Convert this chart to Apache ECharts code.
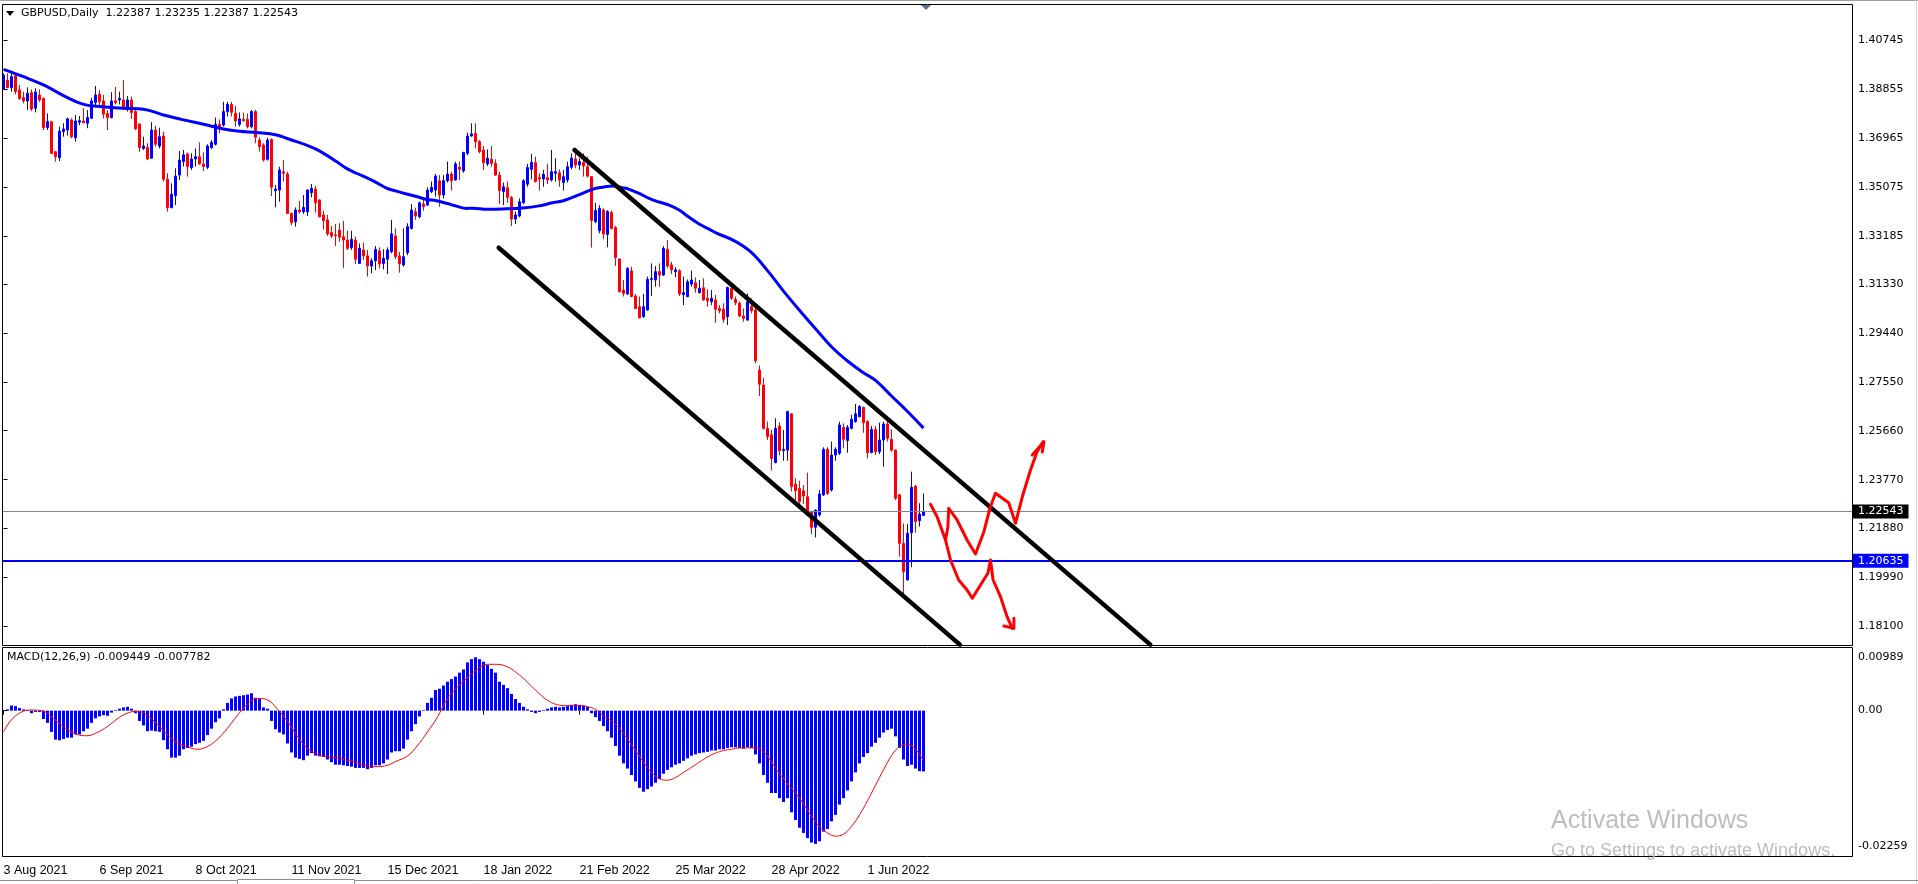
<!DOCTYPE html>
<html><head><meta charset="utf-8">
<script src="https://cdn.jsdelivr.net/npm/echarts@6/dist/echarts.min.js"></script>
<style>html,body{margin:0;padding:0;background:#fff;overflow:hidden}#c{width:1918px;height:884px}</style>
</head><body><div id="c"></div>
<script>
// ---------- data ----------
const OPEN = [
1.3884,1.3920,1.3891,1.3937,1.3882,1.3852,1.3839,1.3871,1.3811,1.3862,
1.3849,1.3736,1.3759,1.3643,1.3620,1.3721,1.3727,1.3766,1.3697,1.3757,
1.3762,1.3753,1.3772,1.3833,1.3865,1.3839,1.3791,1.3775,1.3840,1.3843,
1.3843,1.3811,1.3843,1.3798,1.3750,1.3656,1.3660,1.3618,1.3727,1.3665,
1.3704,1.3537,1.3427,1.3474,1.3553,1.3605,1.3634,1.3582,1.3615,1.3624,
1.3596,1.3583,1.3659,1.3672,1.3749,1.3746,1.3798,1.3826,1.3791,1.3749,
1.3768,1.3768,1.3740,1.3798,1.3688,1.3669,1.3614,1.3691,1.3493,1.3495,
1.3566,1.3557,1.3405,1.3373,1.3418,1.3411,1.3411,1.3485,1.3499,1.3457,
1.3399,1.3380,1.3331,1.3322,1.3341,1.3315,1.3302,1.3273,1.3302,1.3212,
1.3264,1.3241,1.3202,1.3222,1.3260,1.3212,1.3228,1.3257,1.3318,1.3241,
1.3206,1.3253,1.3347,1.3411,1.3392,1.3441,1.3437,1.3489,1.3495,1.3531,
1.3476,1.3531,1.3557,1.3534,1.3583,1.3569,1.3637,1.3704,1.3714,1.3682,
1.3650,1.3596,1.3614,1.3598,1.3553,1.3489,1.3504,1.3466,1.3383,1.3395,
1.3446,1.3518,1.3575,1.3601,1.3543,1.3538,1.3543,1.3534,1.3560,1.3562,
1.3524,1.3534,1.3583,1.3615,1.3592,1.3602,1.3585,1.3547,1.3373,1.3338,
1.3418,1.3324,1.3408,1.3351,1.3229,1.3109,1.3094,1.3183,1.3086,1.3045,
1.3006,1.3032,1.3150,1.3148,1.3180,1.3167,1.3266,1.3206,1.3180,1.3184,
1.3091,1.3084,1.3132,1.3137,1.3099,1.3118,1.3077,1.3064,1.3071,1.3038,
1.3035,1.3006,1.3116,1.3073,1.3058,1.3009,1.2993,1.3045,1.3032,1.2800,
1.2742,1.2575,1.2550,1.2443,1.2584,1.2489,1.2491,1.2631,1.2360,1.2343,
1.2334,1.2311,1.2253,1.2193,1.2241,1.2318,1.2494,1.2337,1.2472,1.2479,
1.2579,1.2528,1.2575,1.2601,1.2620,1.2656,1.2601,1.2481,1.2571,1.2485,
1.2530,1.2592,1.2533,1.2491,1.2318,1.2131,1.1990,1.2172,1.2352,1.2219,
1.22387];
const HIGH = [
1.3946,1.3946,1.3946,1.3946,1.3901,1.3875,1.3892,1.3884,1.3888,1.3884,
1.3852,1.3791,1.3762,1.3646,1.3740,1.3753,1.3775,1.3772,1.3785,1.3781,
1.3811,1.3804,1.3852,1.3897,1.3882,1.3862,1.3804,1.3873,1.3893,1.3875,
1.3920,1.3858,1.3856,1.3811,1.3753,1.3701,1.3676,1.3757,1.3743,1.3736,
1.3721,1.3560,1.3521,1.3579,1.3646,1.3650,1.3640,1.3637,1.3656,1.3679,
1.3641,1.3672,1.3688,1.3775,1.3768,1.3836,1.3836,1.3836,1.3820,1.3795,
1.3794,1.3791,1.3804,1.3804,1.3699,1.3676,1.3697,1.3694,1.3515,1.3585,
1.3611,1.3566,1.3408,1.3428,1.3454,1.3476,1.3499,1.3519,1.3511,1.3459,
1.3415,1.3399,1.3356,1.3364,1.3367,1.3376,1.3338,1.3338,1.3315,1.3289,
1.3292,1.3264,1.3232,1.3279,1.3274,1.3266,1.3274,1.3380,1.3347,1.3257,
1.3347,1.3367,1.3441,1.3427,1.3450,1.3463,1.3506,1.3528,1.3557,1.3553,
1.3553,1.3605,1.3566,1.3605,1.3605,1.3643,1.3717,1.3753,1.3753,1.3688,
1.3665,1.3652,1.3665,1.3614,1.3566,1.3524,1.3528,1.3472,1.3412,1.3463,
1.3537,1.3596,1.3634,1.3624,1.3560,1.3573,1.3596,1.3650,1.3618,1.3575,
1.3573,1.3605,1.3637,1.3643,1.3618,1.3637,1.3624,1.3547,1.3446,1.3437,
1.3425,1.3418,1.3416,1.3356,1.3231,1.3148,1.3197,1.3199,1.3094,1.3084,
1.3094,1.3161,1.3212,1.3202,1.3212,1.3279,1.3302,1.3218,1.3197,1.3189,
1.3161,1.3150,1.3184,1.3158,1.3148,1.3154,1.3112,1.3109,1.3090,1.3051,
1.3058,1.3122,1.3122,1.3084,1.3064,1.3038,1.3096,1.3077,1.3055,1.2818,
1.2770,1.2601,1.2569,1.2614,1.2598,1.2569,1.2643,1.2633,1.2382,1.2373,
1.2356,1.2404,1.2257,1.2262,1.2337,1.2502,1.2502,1.2524,1.2502,1.2601,
1.2594,1.2588,1.2627,1.2669,1.2665,1.2659,1.2607,1.2584,1.2584,1.2597,
1.2601,1.2605,1.2571,1.2494,1.2322,1.2208,1.2206,1.2408,1.2356,1.2286,
1.23235];
const LOW = [
1.3882,1.3888,1.3875,1.3865,1.3843,1.3830,1.3804,1.3800,1.3795,1.3836,
1.3727,1.3727,1.3634,1.3605,1.3607,1.3701,1.3705,1.3695,1.3682,1.3746,
1.3753,1.3734,1.3770,1.3824,1.3824,1.3772,1.3727,1.3772,1.3826,1.3826,
1.3804,1.3798,1.3770,1.3727,1.3643,1.3650,1.3611,1.3615,1.3663,1.3656,
1.3528,1.3412,1.3425,1.3437,1.3534,1.3586,1.3547,1.3573,1.3586,1.3592,
1.3569,1.3576,1.3654,1.3667,1.3714,1.3740,1.3779,1.3779,1.3740,1.3740,
1.3759,1.3733,1.3733,1.3676,1.3643,1.3605,1.3609,1.3472,1.3428,1.3450,
1.3528,1.3403,1.3360,1.3354,1.3405,1.3403,1.3395,1.3467,1.3408,1.3390,
1.3343,1.3318,1.3309,1.3279,1.3296,1.3195,1.3264,1.3264,1.3210,1.3210,
1.3225,1.3161,1.3174,1.3186,1.3193,1.3189,1.3171,1.3251,1.3228,1.3176,
1.3199,1.3244,1.3343,1.3380,1.3386,1.3415,1.3433,1.3483,1.3470,1.3431,
1.3463,1.3524,1.3493,1.3531,1.3534,1.3562,1.3630,1.3701,1.3656,1.3637,
1.3573,1.3588,1.3585,1.3549,1.3441,1.3437,1.3446,1.3356,1.3364,1.3390,
1.3441,1.3508,1.3537,1.3524,1.3493,1.3508,1.3518,1.3528,1.3528,1.3508,
1.3493,1.3524,1.3575,1.3579,1.3573,1.3547,1.3544,1.3273,1.3367,1.3328,
1.3305,1.3274,1.3343,1.3202,1.3099,1.3084,1.3090,1.3081,1.3035,1.2999,
1.3002,1.3029,1.3086,1.3122,1.3122,1.3163,1.3193,1.3171,1.3158,1.3086,
1.3051,1.3081,1.3122,1.3099,1.3096,1.3068,1.3045,1.3051,1.2983,1.3019,
1.2983,1.2974,1.3071,1.3051,1.3004,1.2987,1.2991,1.3019,1.2826,1.2700,
1.2570,1.2530,1.2412,1.2440,1.2472,1.2450,1.2450,1.2331,1.2298,1.2279,
1.2283,1.2244,1.2167,1.2154,1.2234,1.2314,1.2318,1.2331,1.2450,1.2472,
1.2498,1.2481,1.2571,1.2597,1.2618,1.2558,1.2459,1.2479,1.2472,1.2476,
1.2427,1.2524,1.2485,1.2298,1.2080,1.1932,1.1987,1.2039,1.2172,1.2196,
1.22387];
const CLOSE = [
1.3939,1.3891,1.3933,1.3875,1.3849,1.3839,1.3869,1.3808,1.3874,1.3843,
1.3736,1.3759,1.3636,1.3624,1.3723,1.3731,1.3770,1.3701,1.3762,1.3763,
1.3755,1.3775,1.3839,1.3862,1.3836,1.3788,1.3775,1.3839,1.3833,1.3849,
1.3811,1.3843,1.3795,1.3731,1.3659,1.3665,1.3615,1.3727,1.3672,1.3701,
1.3537,1.3427,1.3479,1.3549,1.3611,1.3631,1.3586,1.3615,1.3624,1.3596,
1.3586,1.3665,1.3679,1.3749,1.3740,1.3798,1.3826,1.3795,1.3762,1.3770,
1.3763,1.3740,1.3798,1.3699,1.3663,1.3611,1.3688,1.3506,1.3499,1.3573,
1.3560,1.3405,1.3369,1.3418,1.3411,1.3428,1.3495,1.3502,1.3446,1.3392,
1.3377,1.3326,1.3318,1.3319,1.3313,1.3302,1.3270,1.3305,1.3228,1.3270,
1.3241,1.3202,1.3222,1.3266,1.3210,1.3232,1.3264,1.3326,1.3238,1.3210,
1.3238,1.3354,1.3418,1.3395,1.3446,1.3431,1.3495,1.3506,1.3549,1.3476,
1.3531,1.3557,1.3531,1.3596,1.3575,1.3640,1.3704,1.3712,1.3682,1.3643,
1.3601,1.3618,1.3598,1.3553,1.3493,1.3508,1.3467,1.3383,1.3399,1.3450,
1.3531,1.3582,1.3602,1.3528,1.3538,1.3556,1.3534,1.3566,1.3566,1.3534,
1.3547,1.3585,1.3618,1.3592,1.3605,1.3588,1.3549,1.3377,1.3416,1.3425,
1.3325,1.3412,1.3347,1.3235,1.3103,1.3096,1.3193,1.3084,1.3038,1.3002,
1.3045,1.3150,1.3154,1.3180,1.3167,1.3270,1.3202,1.3187,1.3187,1.3094,
1.3099,1.3141,1.3148,1.3116,1.3116,1.3071,1.3068,1.3077,1.3035,1.3029,
1.2996,1.3119,1.3077,1.3060,1.3009,1.3000,1.3064,1.3029,1.2836,1.2745,
1.2575,1.2543,1.2459,1.2575,1.2489,1.2494,1.2640,1.2350,1.2334,1.2292,
1.2314,1.2253,1.2193,1.2260,1.2322,1.2494,1.2324,1.2472,1.2494,1.2588,
1.2533,1.2579,1.2610,1.2631,1.2659,1.2597,1.2481,1.2571,1.2485,1.2530,
1.2592,1.2537,1.2491,1.2305,1.2131,1.2022,1.2170,1.2347,1.2215,1.2244,
1.22543];

// moving average read at sample bars
const MA_X = [0,5,10,15,20,25,30,35,40,45,50,55,59,63.25,68.25,70.75,73.25,75.75,78.25,80.75,
83.25,85.75,88.25,90.75,93.25,95.75,98.25,100.75,103.25,105.75,108.25,110.75,113.25,115.75,117.25,121,124.75,129.75,133.9,137.25,
139.75,142.25,144.75,147.25,149.75,152.25,154.75,156.4,158.9,161.4,163.9,166.4,168.9,171.4,173.9,176.4,178.4,182.6,186.75,190.9,
195.1,199.25,203,207,211,215,218,222,226,230];
const MA_Y = [1.3961,1.3933,1.3901,1.3860,1.3826,1.3817,1.3811,1.3807,1.3785,1.3766,1.3749,1.3731,1.3722,1.3717,1.3708,1.3695,1.3682,1.3669,1.3652,1.3630,
1.3605,1.3579,1.3560,1.3543,1.3524,1.3503,1.3491,1.3480,1.3470,1.3459,1.3454,1.3444,1.3433,1.3424,1.3425,1.3421,1.3422,1.3426,1.3434,1.3446,
1.3453,1.3467,1.3482,1.3498,1.3506,1.3511,1.3504,1.3498,1.3482,1.3463,1.3449,1.3437,1.3418,1.3390,1.3364,1.3344,1.3328,1.3300,1.3257,1.3186,
1.3103,1.3026,1.2960,1.2890,1.2835,1.2790,1.2760,1.2700,1.2640,1.2576];

// MACD histogram, one value per bar
const MACD_HIST = [
0.0001,0.0002,0.0008,0.0007,0.0004,0.0002,0.0001,-0.0004,-0.0002,-0.0002,
-0.0013,-0.0019,-0.0033,-0.0045,-0.0046,-0.0044,-0.0042,-0.0042,-0.0037,-0.0037,
-0.0032,-0.0028,-0.0019,-0.0012,-0.0009,-0.0007,-0.0008,-0.0003,0.0001,0.0003,
0.0005,0.0006,0.0003,-0.0004,-0.0016,-0.0023,-0.0032,-0.0031,-0.0032,-0.0033,
-0.0046,-0.0060,-0.0073,-0.0073,-0.0070,-0.0060,-0.0058,-0.0056,-0.0052,-0.0050,
-0.0047,-0.0038,-0.0028,-0.0018,-0.0012,0.0002,0.0012,0.0019,0.0022,0.0023,
0.0024,0.0025,0.0027,0.0020,0.0018,0.0005,0.0003,-0.0016,-0.0029,-0.0034,
-0.0037,-0.0051,-0.0065,-0.0073,-0.0075,-0.0077,-0.0070,-0.0066,-0.0070,-0.0071,
-0.0072,-0.0076,-0.0080,-0.0084,-0.0084,-0.0085,-0.0086,-0.0087,-0.0089,-0.0089,
-0.0089,-0.0091,-0.0089,-0.0085,-0.0085,-0.0082,-0.0076,-0.0065,-0.0063,-0.0063,
-0.0059,-0.0045,-0.0032,-0.0021,-0.0009,0.0001,0.0012,0.0020,0.0032,0.0034,
0.0039,0.0045,0.0049,0.0053,0.0059,0.0064,0.0075,0.0080,0.0083,0.0080,
0.0076,0.0071,0.0065,0.0059,0.0045,0.0040,0.0035,0.0026,0.0018,0.0012,
0.0006,0.0002,-0.0002,-0.0004,-0.0002,0.0001,0.0003,0.0005,0.0006,0.0005,
0.0006,0.0007,0.0009,0.0010,0.0009,0.0008,0.0006,-0.0004,-0.0010,-0.0016,
-0.0024,-0.0032,-0.0042,-0.0055,-0.0070,-0.0082,-0.0090,-0.0100,-0.0110,-0.0120,
-0.0126,-0.0122,-0.0118,-0.0112,-0.0106,-0.0098,-0.0092,-0.0088,-0.0084,-0.0082,
-0.0078,-0.0074,-0.0070,-0.0068,-0.0066,-0.0065,-0.0064,-0.0062,-0.0062,-0.0060,
-0.0060,-0.0058,-0.0057,-0.0057,-0.0058,-0.0059,-0.0057,-0.0058,-0.0068,-0.0082,
-0.0100,-0.0112,-0.0128,-0.0128,-0.0136,-0.0142,-0.0136,-0.0158,-0.0170,-0.0182,
-0.0190,-0.0198,-0.0205,-0.0207,-0.0203,-0.0188,-0.0184,-0.0172,-0.0162,-0.0146,
-0.0136,-0.0124,-0.0110,-0.0096,-0.0082,-0.0072,-0.0066,-0.0056,-0.0050,-0.0042,
-0.0034,-0.0030,-0.0028,-0.0040,-0.0058,-0.0076,-0.0086,-0.0084,-0.0090,-0.0094,
-0.009449];

// MACD signal line read at sample bars
const SIGNAL_X = [0,1.75,4.25,6.75,10.1,12.6,15.9,18.4,20.9,23.4,25.9,28.4,30.9,33.4,35.9,38.4,40.9,43.4,45.9,48.4,
50.9,53.4,55.9,58.4,60.9,63.4,65.9,68.4,70.9,73.4,75.9,78.4,80.9,83.4,85.9,88.4,90.9,93.4,95.9,98.4,
100.9,103.4,105.9,108.4,110.9,113.4,115.9,118.4,120.9,123.4,
126,128,130,132,134,136,138,140,142,144,146,148,150,152,154,156,158,160,162,164,166,168,170,172,174,176,178,180,
182,184,186,188,190,192,194,196,198,200,202,204,206,208,210,212,214,216,218,220,222,224,226,228,230];
const SIGNAL_Y = [-0.0033,-0.0016,-0.0003,0.0001,-0.0001,-0.0013,-0.0029,-0.0037,-0.0039,-0.0034,
-0.0025,-0.0013,-0.0004,-0.0001,-0.0007,-0.0021,-0.0037,-0.0050,-0.0056,-0.0060,
-0.0056,-0.0045,-0.0028,-0.0008,0.0010,0.0019,0.0017,0.0003,-0.0016,-0.0039,
-0.0058,-0.0068,-0.0072,-0.0073,-0.0077,-0.0081,-0.0086,-0.0087,-0.0085,-0.0078,
-0.0071,-0.0055,-0.0034,-0.0011,0.0018,0.0036,0.0051,0.0064,0.0072,0.0072,
0.0068,0.0060,0.0050,0.0038,0.0026,0.0016,0.0010,0.0008,0.0008,0.0008,0.0006,0.0002,-0.0008,-0.0016,
-0.0028,-0.0044,-0.0062,-0.0080,-0.0096,-0.0106,-0.0108,-0.0104,-0.0096,-0.0088,-0.0080,-0.0072,-0.0066,-0.0062,
-0.0060,-0.0058,-0.0058,-0.0058,-0.0064,-0.0080,-0.0098,-0.0114,-0.0128,-0.0145,-0.0164,-0.0180,-0.0190,-0.0195,
-0.0192,-0.0180,-0.0162,-0.0140,-0.0116,-0.0092,-0.0070,-0.0056,-0.0052,-0.0060,-0.0078];

// axis ticks
const DATE_TICKS = [0,24,48,72,96,120,144,168,192,216];
const DATE_LABELS = ['3 Aug 2021','6 Sep 2021','8 Oct 2021','11 Nov 2021','15 Dec 2021','18 Jan 2022','21 Feb 2022','25 Mar 2022','28 Apr 2022','1 Jun 2022'];
const PRICE_TICKS = [1.40745,1.38855,1.36965,1.35075,1.33185,1.31330,1.29440,1.27550,1.25660,1.23770,1.21880,1.19990,1.18100];
const MACD_TICKS = [0.00989,0,-0.02259];

// drawn objects (bar index, price)
const CHANNEL_UPPER = [[142.75,1.36498],[286.7,1.1740]];
const CHANNEL_LOWER = [[123.8,1.32726],[239.1,1.1740]];
const SKETCH_UP = [[231.75,1.22818],[233.4,1.22340],[235.5,1.21440],[236.1,1.21954],[236.3,1.22664],[238.4,1.22213],[240.9,1.21440],[243,1.20900],[245.1,1.21761],[246.6,1.22664],[248,1.23244],[251.3,1.22881],[253,1.22086],[254.7,1.23108],[256.75,1.24143],[258.4,1.24849],[259.9,1.25235]];
const SKETCH_UP_HEAD = [[257.2,1.24722],[260.1,1.25235],[259.7,1.24838]];
const SKETCH_DOWN = [[235.5,1.21440],[236.75,1.20668],[238.8,1.19896],[240.9,1.19510],[242.2,1.19189],[244.25,1.19703],[246.1,1.20155],[246.75,1.20668],[247.4,1.19896],[249.25,1.19251],[250.9,1.18479],[252.2,1.18031]];
const SKETCH_DOWN_HEAD = [[250.1,1.18120],[252.6,1.18031],[252.6,1.18417]];
const LAST_PRICE = 1.22543;
const LEVEL = 1.20635;
const HEADER = 'GBPUSD,Daily  1.22387 1.23235 1.22387 1.22543';
const MACD_HEADER = 'MACD(12,26,9) -0.009449 -0.007782';

// ---------- chart ----------
const FONT = 'DejaVu Sans';
const XFONT = 'Liberation Sans';
const chart = echarts.init(document.getElementById('c'), null, {renderer:'canvas'});
const candleData = OPEN.map((o,i)=>[i,o,CLOSE[i],LOW[i],HIGH[i]]);
const maData = MA_X.map((x,i)=>[x,MA_Y[i]]);
const histData = MACD_HIST.map((v,i)=>[i,v]);
const sigData = SIGNAL_X.map((x,i)=>[x,SIGNAL_Y[i]]);
const X_MIN = -0.125, X_MAX = 462.125;
const lineS = (data,color,width)=>({type:'line',xAxisIndex:0,yAxisIndex:0,data,symbol:'none',silent:true,
  lineStyle:{color,width,cap:'round',join:'round'},z:5});

chart.setOption({
  animation:false,
  backgroundColor:'#ffffff',
  grid:[{left:3,top:4,width:1849,height:641,show:false},
        {left:3,top:647,width:1849,height:209,show:false}],
  xAxis:[
    {type:'value',gridIndex:0,min:X_MIN,max:X_MAX,show:false},
    {type:'value',gridIndex:1,min:X_MIN,max:X_MAX,position:'bottom',
     axisLine:{show:false},splitLine:{show:false},
     axisTick:{show:true,customValues:DATE_TICKS,length:4,lineStyle:{color:'#000'}},
     axisLabel:{customValues:DATE_TICKS,formatter:v=>DATE_LABELS[DATE_TICKS.indexOf(v)],align:'left',margin:8,
       color:'#000',fontFamily:XFONT,fontSize:12.5,showMinLabel:true,showMaxLabel:true}}
  ],
  yAxis:[
    {type:'value',gridIndex:0,position:'right',min:1.17386,max:1.42135,
     axisLine:{show:false},splitLine:{show:false},
     axisTick:{show:true,customValues:PRICE_TICKS,length:4,lineStyle:{color:'#000'}},
     axisLabel:{customValues:PRICE_TICKS,formatter:v=>v.toFixed(5),color:'#000',fontFamily:FONT,fontSize:11,margin:6}},
    {type:'value',gridIndex:1,position:'right',min:-0.02259,max:0.00989,
     axisLine:{show:false},splitLine:{show:false},
     axisTick:{show:true,customValues:MACD_TICKS,length:4,lineStyle:{color:'#000'}},
     axisLabel:{customValues:MACD_TICKS,color:'#000',fontFamily:FONT,fontSize:11,margin:6,lineHeight:20,
       formatter:v=>v>0?'\n'+v.toFixed(5):(v<0?v.toFixed(5)+'\n':'0.00')}}
  ],
  series:[
    {type:'candlestick',xAxisIndex:0,yAxisIndex:0,data:candleData,barWidth:2,silent:true,
     itemStyle:{color:'#0000ff',color0:'#ff0000',borderColor:'#0000ff',borderColor0:'#ff0000',borderWidth:1},z:3},
    {type:'line',xAxisIndex:0,yAxisIndex:0,data:maData,symbol:'none',smooth:0.4,silent:true,
     lineStyle:{color:'#0000ff',width:3},z:4,
     markLine:{symbol:['none','none'],silent:true,animation:false,precision:5,
       data:[
        {yAxis:LAST_PRICE,lineStyle:{color:'#778899',width:1,type:'solid'},
         label:{show:true,position:'end',formatter:LAST_PRICE.toFixed(5),color:'#fff',backgroundColor:'#000',
                padding:[2,5,1,5],distance:1,fontFamily:FONT,fontSize:11}},
        {yAxis:LEVEL,lineStyle:{color:'#0000ff',width:2,type:'solid'},
         label:{show:true,position:'end',formatter:LEVEL.toFixed(5),color:'#fff',backgroundColor:'#0000ff',
                padding:[2,5,1,5],distance:1,fontFamily:FONT,fontSize:11}}
       ]}},
    lineS(CHANNEL_UPPER,'#000000',4.5),
    lineS(CHANNEL_LOWER,'#000000',4.5),
    lineS(SKETCH_UP,'#ff0000',3),
    lineS(SKETCH_UP_HEAD,'#ff0000',3),
    lineS(SKETCH_DOWN,'#ff0000',3),
    lineS(SKETCH_DOWN_HEAD,'#ff0000',3),
    {type:'bar',xAxisIndex:1,yAxisIndex:1,data:histData,barWidth:3,silent:true,itemStyle:{color:'#0000ff'},z:3},
    {type:'line',xAxisIndex:1,yAxisIndex:1,data:sigData,symbol:'none',smooth:0.4,silent:true,
     lineStyle:{color:'#ff0000',width:1},z:4}
  ],
  graphic:[
    {type:'line',shape:{x1:0,y1:0.5,x2:1918,y2:0.5},style:{stroke:'#a0a0a0',lineWidth:1},silent:true,z:50},
    {type:'line',shape:{x1:1916.5,y1:0,x2:1916.5,y2:884},style:{stroke:'#d0d0d0',lineWidth:1},silent:true,z:50},
    {type:'rect',shape:{x:2.5,y:4.5,width:1850,height:641},style:{fill:'transparent',stroke:'#000',lineWidth:1},silent:true,z:50},
    {type:'rect',shape:{x:2.5,y:647.5,width:1850,height:209},style:{fill:'transparent',stroke:'#000',lineWidth:1},silent:true,z:50},
    {type:'line',shape:{x1:0,y1:880.5,x2:1918,y2:880.5},style:{stroke:'#909090',lineWidth:1},silent:true,z:50},
    {type:'rect',shape:{x:237.5,y:879.5,width:117,height:6},style:{fill:'#ffffff',stroke:'#909090',lineWidth:1},silent:true,z:51},
    {type:'polygon',shape:{points:[[921,5],[931,5],[926,10]]},style:{fill:'#5b7089'},silent:true,z:52},
    {type:'polygon',shape:{points:[[6,11],[14,11],[10,16]]},style:{fill:'#000'},silent:true,z:52},
    {type:'text',left:21,top:8,style:{text:HEADER,fontFamily:FONT,fontSize:11,fill:'#000'},silent:true,z:52},
    {type:'text',left:7,top:652,style:{text:MACD_HEADER,fontFamily:FONT,fontSize:11,fill:'#000'},silent:true,z:52},
    {type:'text',left:1551,top:809,style:{text:'Activate Windows',fontFamily:XFONT,fontSize:25,fill:'#bdbdbd'},silent:true,z:60},
    {type:'text',left:1551,top:842,style:{text:'Go to Settings to activate Windows.',fontFamily:XFONT,fontSize:18,fill:'#bdbdbd'},silent:true,z:60}
  ]
});
</script>
</body></html>
